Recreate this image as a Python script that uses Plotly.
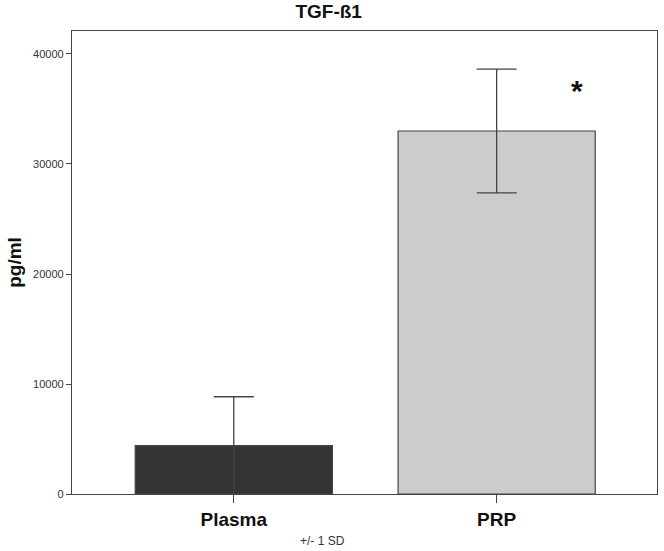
import plotly.graph_objects as go

categories = ["Plasma", "PRP"]
means = [4390, 33000]
sd = [4450, 5620]
bar_colors = ["#333333", "#cccccc"]
y_ticks = [0, 10000, 20000, 30000, 40000]
y_tick_labels = ["0", "10000", "20000", "30000", "40000"]

FONT = "Liberation Sans, Arial"
L, R, T, B = 72, 7, 31, 57
W, H = 664, 551
plot_w = W - L - R
plot_h = H - T - B

fig = go.Figure()
fig.add_trace(go.Bar(
    x=[0, 1],
    y=means,
    width=0.75,
    marker=dict(color=bar_colors, line=dict(color="#444444", width=1.2)),
    error_y=dict(type="data", array=sd, visible=True, color="#444444",
                 thickness=1.3, width=20),
    showlegend=False,
))

fig.add_annotation(x=1.305, y=37093, text="<b>*</b>", showarrow=False,
                   font=dict(family=FONT, size=30, color="#111111"),
                   xref="x", yref="y", yanchor="middle", yshift=-5)
fig.add_annotation(x=(322 - L) / plot_w, y=-(541 - (H - B)) / plot_h,
                   xref="paper", yref="paper", text="+/- 1 SD",
                   showarrow=False, yanchor="middle",
                   font=dict(family=FONT, size=12, color="#333333"))

fig.update_layout(
    width=W, height=H,
    margin=dict(l=L, r=R, t=T, b=B, autoexpand=False),
    paper_bgcolor="white", plot_bgcolor="white",
    title=dict(text="<b>TGF-ß1</b>", x=0.495, xref="container", xanchor="center",
               y=1 - 11 / H, yref="container", yanchor="middle", automargin=False,
               font=dict(family=FONT, size=19, color="#111111")),
    font=dict(family=FONT),
)

fig.update_xaxes(
    range=[-0.6155, 1.61], automargin=False,
    tickvals=[0, 1], ticktext=["<b>%s</b>" % c for c in categories],
    tickfont=dict(size=19, color="#111111", family=FONT),
    ticks="outside", ticklen=8, tickcolor="#444444", tickwidth=1.2,
    showline=True, linecolor="#444444", linewidth=1.2, mirror=True,
    showgrid=False, zeroline=False,
)
fig.update_yaxes(
    range=[0, 42090], automargin=False,
    tickvals=y_ticks, ticktext=y_tick_labels,
    tickfont=dict(size=11, color="#333333", family=FONT),
    ticks="outside", ticklen=5, tickcolor="#444444", tickwidth=1.2,
    showline=True, linecolor="#444444", linewidth=1.2, mirror=True,
    showgrid=False, zeroline=False,
    title=dict(text="<b>pg/ml</b>", font=dict(size=19, color="#111111", family=FONT),
               standoff=6),
)

fig.write_html("out.html",
               config={"displayModeBar": False},
               post_script="document.body.style.margin='0px';document.body.style.overflow='hidden';")
